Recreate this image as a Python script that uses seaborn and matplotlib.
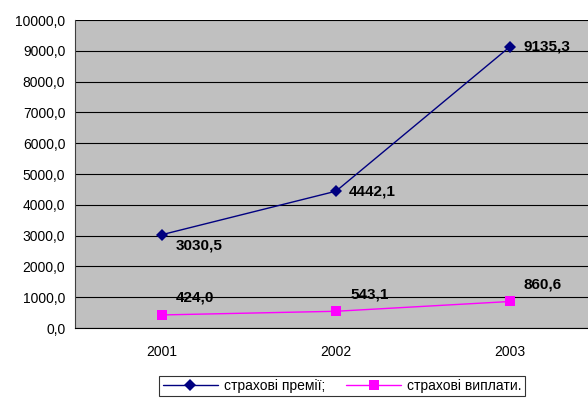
import pandas as pd
import matplotlib
matplotlib.use('Agg')
import matplotlib.pyplot as plt
import seaborn as sns

years = ['2001', '2002', '2003']
premiums = [3030.5, 4442.1, 9135.3]
payouts = [424.0, 543.1, 860.6]
series_names = ['страхові премії;', 'страхові виплати.']

sns.set_style('white')
plt.rcParams['font.family'] = ['Liberation Sans', 'DejaVu Sans']
plt.rcParams['text.color'] = 'black'
plt.rcParams['xtick.color'] = 'black'
plt.rcParams['ytick.color'] = 'black'

df = pd.DataFrame({
    'pos': list(range(len(years))) * 2,
    'value': premiums + payouts,
    'series': [series_names[0]] * 3 + [series_names[1]] * 3,
})

fig = plt.figure(figsize=(5.88, 4.0), dpi=100)
ax = fig.add_axes([75 / 588, 72 / 400, 522 / 588, 308 / 400])
ax.set_facecolor('#C0C0C0')

sns.lineplot(data=df, x='pos', y='value', hue='series', style='series',
             palette=['#000080', '#FF00FF'], markers=['D', 's'], dashes=False,
             markersize=6.5, linewidth=1, markeredgewidth=0, ax=ax)

ax.set_xlim(-0.5, 2.5)
ax.set_ylim(0, 10000)
ax.set_yticks(range(0, 10001, 1000))
ax.set_yticklabels([f'{v:.1f}'.replace('.', ',') for v in range(0, 10001, 1000)], fontsize=10)
ax.set_xticks(range(len(years)))
ax.set_xticklabels(years, fontsize=10)
ax.tick_params(axis='x', length=0, pad=12)
ax.tick_params(axis='y', length=4, width=1, color='#404040', pad=3)
ax.set_xlabel('')
ax.set_ylabel('')
ax.grid(axis='y', color='black', linewidth=0.8)
ax.set_axisbelow(True)
for s in ['top', 'right']:
    ax.spines[s].set_visible(False)
ax.spines['left'].set_color('#404040')
ax.spines['bottom'].set_color('black')

# data labels
offsets_prem = [(14, -11), (13, 0), (13, 0)]
for i, v in enumerate(premiums):
    ax.annotate(f'{v:.1f}'.replace('.', ','), (i, v), xytext=offsets_prem[i],
                textcoords='offset pixels', ha='left', va='center',
                fontsize=11, fontweight='bold')
for i, v in enumerate(payouts):
    ax.annotate(f'{v:.1f}'.replace('.', ','), (i, v), xytext=(14, 17),
                textcoords='offset pixels', ha='left', va='center',
                fontsize=11, fontweight='bold')

handles, labels = ax.get_legend_handles_labels()
ax.legend_.remove()
leg = fig.legend(handles, labels, loc='center', bbox_to_anchor=(342 / 588, 1 - 386 / 400),
                 ncol=2, fontsize=10, frameon=True, fancybox=False, edgecolor='black',
                 handlelength=4, columnspacing=1.5, borderpad=0.25, handletextpad=0.4)
leg.get_frame().set_linewidth(0.8)

fig.savefig('out.png', dpi=100, facecolor='white')
